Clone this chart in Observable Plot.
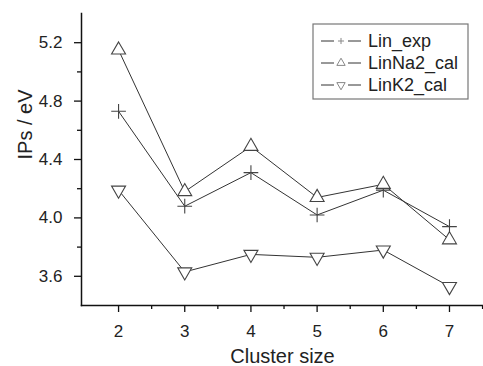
<!DOCTYPE html>
<html><head><meta charset="utf-8">
<script src="https://cdn.jsdelivr.net/npm/d3@7"></script>
<script src="https://cdn.jsdelivr.net/npm/@observablehq/plot@0.6"></script>
<style>body{margin:0;background:#fff} #chart svg{display:block}</style>
</head><body><div id="chart"></div>
<script>
const clusterSizes = [2, 3, 4, 5, 6, 7];
const linExp = [4.73, 4.08, 4.31, 4.02, 4.19, 3.94];
const linNa2Cal = [5.15, 4.18, 4.49, 4.14, 4.23, 3.85];
const linK2Cal = [4.19, 3.63, 3.75, 3.73, 3.78, 3.53];
const seriesNames = ["Lin_exp", "LinNa2_cal", "LinK2_cal"];
const yMajorTicks = [3.6, 4.0, 4.4, 4.8, 5.2];
const yMinorTicks = [3.8, 4.2, 4.6, 5.0];
const xMajorTicks = [2, 3, 4, 5, 6, 7];
const xMinorTicks = [2.5, 3.5, 4.5, 5.5, 6.5, 7.5];

const seriesValues = [linExp, linNa2Cal, linK2Cal];
const rows = seriesValues.map((vals, s) => clusterSizes.map((x, i) => ({series: seriesNames[s], x, y: vals[i]})));

const lineColor = "#333";
const markColor = "#444";
const font = "'Liberation Sans', Arial, sans-serif";

function legendMark(index, scales, values, dim) {
  const g = d3.create("svg:g").attr("font-family", font);
  const bx = dim.width - 170, by = 24, bw = 155, bh = 75;
  g.append("rect").attr("x", bx).attr("y", by).attr("width", bw).attr("height", bh)
    .attr("fill", "white").attr("stroke", "#777").attr("stroke-width", 1.2);
  const shapes = [
    {type: d3.symbolPlus, size: 14, rot: 0},
    {type: d3.symbolTriangle, size: 30, rot: 0},
    {type: d3.symbolTriangle, size: 30, rot: 180}
  ];
  seriesNames.forEach((name, i) => {
    const cy = by + 17 + i * 22;
    const lx = bx + 8;
    g.append("line").attr("x1", lx).attr("x2", lx + 13).attr("y1", cy).attr("y2", cy).attr("stroke", lineColor);
    g.append("line").attr("x1", lx + 27).attr("x2", lx + 40).attr("y1", cy).attr("y2", cy).attr("stroke", lineColor);
    g.append("path").attr("d", d3.symbol(shapes[i].type, shapes[i].size)())
      .attr("transform", `translate(${lx + 20},${cy}) rotate(${shapes[i].rot})`)
      .attr("fill", "none").attr("stroke", "#888").attr("stroke-width", 1);
    g.append("text").attr("x", lx + 47).attr("y", cy).attr("dy", "0.35em")
      .attr("text-anchor", "start")
      .attr("font-size", 18).attr("fill", "#222").text(name);
  });
  return g.node();
}

const chart = Plot.plot({
  width: 483,
  height: 366,
  marginLeft: 81,
  marginRight: 0,
  marginTop: 13,
  marginBottom: 61,
  style: {fontFamily: font, background: "white", color: "#222"},
  x: {domain: [1.44, 7.514]},
  y: {domain: [3.4, 5.4]},
  marks: [
    ...rows.map(r => Plot.line(r, {x: "x", y: "y", stroke: lineColor, strokeWidth: 1})),
    Plot.dot(rows[0], {x: "x", y: "y", symbol: "plus", r: 4.8, stroke: markColor, strokeWidth: 1.1}),
    Plot.dot(rows[1], {x: "x", y: "y", symbol: "triangle", r: 5.2, stroke: markColor, fill: "white", strokeWidth: 1.1}),
    Plot.dot(rows[2], {x: "x", y: "y", symbol: "triangle", r: 5.2, rotate: 180, stroke: markColor, fill: "white", strokeWidth: 1.1}),
    Plot.frame({anchor: "left", stroke: "#111", strokeWidth: 1.5}),
    Plot.frame({anchor: "bottom", stroke: "#111", strokeWidth: 1.5}),
    Plot.axisY(yMajorTicks, {tickSize: 7, tickPadding: 12, tickFormat: d => d.toFixed(1), fontSize: 17, label: null, stroke: "#111", strokeWidth: 1.3}),
    Plot.axisY(yMinorTicks, {tickSize: 4, tickFormat: () => "", label: null, stroke: "#111", strokeWidth: 1.3}),
    Plot.axisX(xMajorTicks, {tickSize: 7, tickPadding: 12, fontSize: 17, label: null, stroke: "#111", strokeWidth: 1.3}),
    Plot.axisX(xMinorTicks, {tickSize: 4, tickFormat: () => "", label: null, stroke: "#111", strokeWidth: 1.3}),
    Plot.text(["Cluster size"], {frameAnchor: "bottom", dy: 57, fontSize: 20, fill: "#222"}),
    Plot.text(["IPs / eV"], {frameAnchor: "left", dx: -56, rotate: -90, fontSize: 20, fill: "#222"}),
    legendMark
  ]
});
document.getElementById("chart").appendChild(chart);
</script>
</body></html>
